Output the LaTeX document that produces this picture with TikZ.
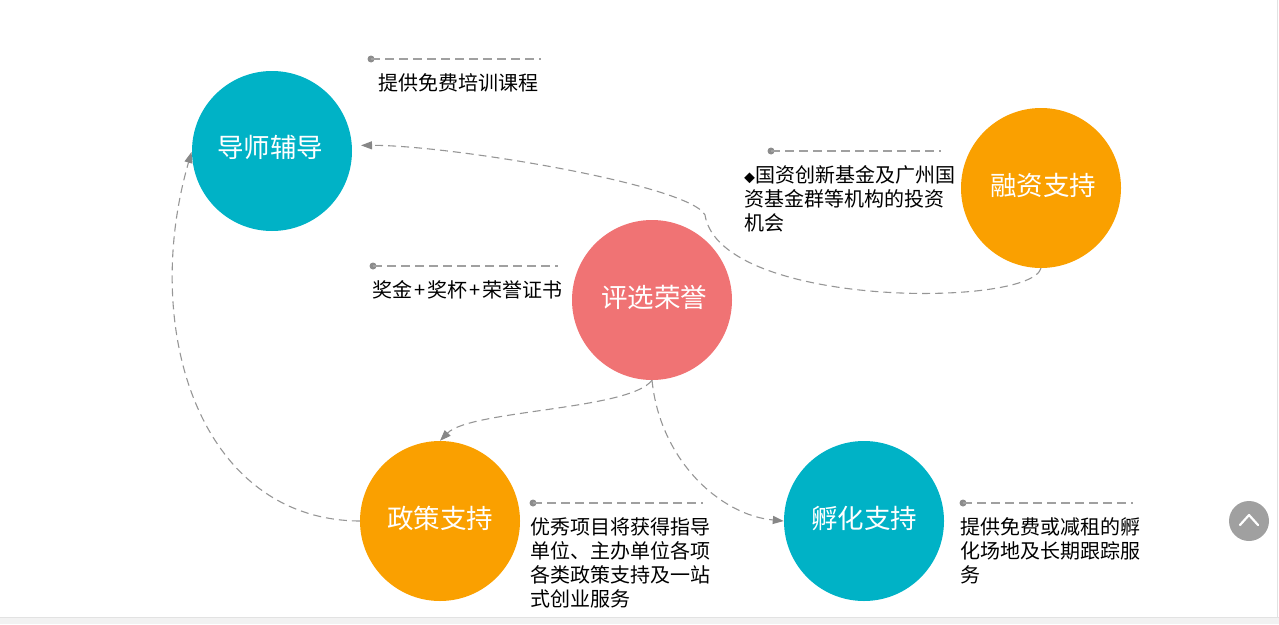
\documentclass[tikz,border=0pt]{standalone}
\usepackage{fontspec}
\setmainfont{Noto Sans CJK SC}
\usetikzlibrary{arrows.meta}
\definecolor{tealc}{RGB}{0,178,198}
\definecolor{orangec}{RGB}{250,160,0}
\definecolor{pinkc}{RGB}{240,115,116}
\definecolor{conngray}{RGB}{150,150,150}
\definecolor{tipgray}{RGB}{135,135,135}
\definecolor{leadgray}{RGB}{160,160,160}
\definecolor{dotgray}{RGB}{140,140,140}
\definecolor{btngray}{RGB}{160,160,160}
\definecolor{edgegray}{RGB}{226,226,226}
\definecolor{bandgray}{RGB}{242,242,242}
\begin{document}
\begin{tikzpicture}[x=1pt,y=-1pt,
  bubble/.style={circle, minimum size=160pt, inner sep=0pt, text=white,
    font=\fontsize{26.5}{26.5}\selectfont},
  btext/.style={text=white, inner sep=0pt, font=\fontsize{26.5}{26.5}\selectfont},
  conn/.style={draw=conngray, line width=1.1pt, dash pattern=on 8pt off 5pt,
    -{Triangle[length=11pt,width=8pt,color=tipgray]}},
  lead/.style={draw=leadgray, line width=1.2pt, dash pattern=on 9pt off 5pt},
  dotc/.style={circle, fill=dotgray, minimum size=7pt, inner sep=0pt},
  lbl/.style={anchor=north west, inner sep=0pt, align=left,
    font=\fontsize{20}{24}\selectfont}
]
\useasboundingbox (0,0) rectangle (1279,624);
% page edges
\fill[bandgray] (0,617) rectangle (1279,624);
\draw[edgegray, line width=1pt] (0,617.5) -- (1279,617.5);
\draw[edgegray, line width=1pt] (1277,0) -- (1277,617);

% circles
\node[bubble, fill=tealc]   (ds) at (272,151) {};
\node[bubble, fill=orangec] (rz) at (1041,188) {};
\node[bubble, fill=pinkc]   (px) at (652,300) {};
\node[bubble, fill=orangec] (zc) at (440,521) {};
\node[bubble, fill=tealc]   (fh) at (864,521) {};
\node[btext] (dst) at (270,147) {导师辅导};
\node[btext] (rzt) at (1043,185) {融资支持};
\node[btext] (pxt) at (654,297) {评选荣誉};
\node[btext] (zct) at (440,518) {政策支持};
\node[btext] (fht) at (864,518) {孵化支持};

% connectors
\draw[conn, shorten >=9pt] (rz.south) .. controls (1030,308) and (720,308) .. (705,215)
  .. controls (690,185) and (450,145) .. (ds.4);
\draw[conn, shorten >=1pt] (zc.west) .. controls (200,520) and (140,330) .. (ds.west);
\draw[conn] (px.south) .. controls (630,410) and (470,410) .. (zc.north);
\draw[conn] (px.south) .. controls (660,460) and (720,515) .. (fh.west);

% leader lines and labels
\node[dotc] (d1) at (371,59) {};
\coordinate (e1) at (541,59);
\draw[lead] (d1.center) -- (e1);
\node[lbl] (l1) at (378,73) {提供免费培训课程};

\node[dotc] (d2) at (771,151) {};
\coordinate (e2) at (941,151);
\draw[lead] (d2.center) -- (e2);
\node[lbl] (l2) at (744,165) {{\fontsize{11}{11}\selectfont ◆}国资创新基金及广州国\\资基金群等机构的投资\\机会};

\node[dotc] (d3) at (373,266) {};
\coordinate (e3) at (558,266);
\draw[lead] (d3.center) -- (e3);
\node[lbl] (l3) at (372,280) {奖金\kern2pt+\kern2pt奖杯\kern2pt+\kern2pt荣誉证书};

\node[dotc] (d4) at (533,503) {};
\coordinate (e4) at (703,503);
\draw[lead] (d4.center) -- (e4);
\node[lbl] (l4) at (530,517) {优秀项目将获得指导\\单位、主办单位各项\\各类政策支持及一站\\式创业服务};

\node[dotc] (d5) at (963,503) {};
\coordinate (e5) at (1133,503);
\draw[lead] (d5.center) -- (e5);
\node[lbl] (l5) at (960,517) {提供免费或减租的孵\\化场地及长期跟踪服\\务};

% back-to-top button
\node[circle, fill=btngray, minimum size=40pt, inner sep=0pt] (up) at (1249,521) {};
\draw[white, line width=2.2pt, line cap=round, line join=round]
  ([shift={(-9,4)}]up.center) -- ([shift={(0,-6)}]up.center) -- ([shift={(9,4)}]up.center);
\end{tikzpicture}
\end{document}
